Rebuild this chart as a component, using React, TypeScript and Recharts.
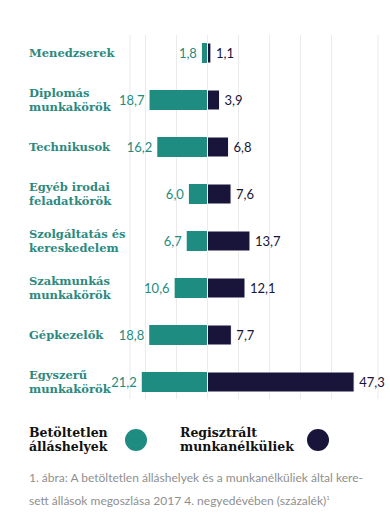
import React from "react";
import { Bar, BarChart, CartesianGrid, LabelList, XAxis, YAxis } from "recharts";

const categories = [
  "Menedzserek",
  "Diplomás\nmunkakörök",
  "Technikusok",
  "Egyéb irodai\nfeladatkörök",
  "Szolgáltatás és\nkereskedelem",
  "Szakmunkás\nmunkakörök",
  "Gépkezelők",
  "Egyszerű\nmunkakörök",
];
const vacancies = [1.8, 18.7, 16.2, 6.0, 6.7, 10.6, 18.8, 21.2];
const unemployed = [1.1, 3.9, 6.8, 7.6, 13.7, 12.1, 7.7, 47.3];
const gridTicks = [-20, -10, 0, 10, 20, 30, 40];

const TEAL = "#1f8c81";
const NAVY = "#18143a";
const LABEL_TEAL = "#2b8a7f";
const SERIF = "'DejaVu Serif', serif";
const SANS = "Lato, 'Noto Sans', sans-serif";

const data = categories.map((name, i) => ({
  name,
  vacant: -vacancies[i],
  unemployed: unemployed[i],
}));

const fmt = (v: any) => Math.abs(Number(v)).toFixed(1).replace(".", ",");

function CategoryTick(props: any) {
  const { y, payload } = props;
  const lines = String(payload.value).split("\n");
  const lh = 14;
  const start = y - ((lines.length - 1) * lh) / 2;
  return (
    <text
      x={29}
      y={start}
      fill={LABEL_TEAL}
      fontFamily={SERIF}
      fontWeight="bold"
      fontSize={11.5}
      dominantBaseline="central"
    >
      {lines.map((l, i) => (
        <tspan key={i} x={29} y={start + i * lh}>
          {l}
        </tspan>
      ))}
    </text>
  );
}

// shorter vertical grid lines, like the original
function GridLine(props: any) {
  const { x1, x2, y1, y2 } = props;
  return <line x1={x1} x2={x2} y1={y1 + 6} y2={y2 - 6} stroke="#ebebeb" strokeWidth={1} />;
}

function makeLabel(side: "left" | "right", color: string) {
  return (props: any) => {
    const { x, y, width, height, value } = props;
    const edge = side === "left" ? Math.min(x, x + width) - 5 : Math.max(x, x + width) + 5;
    return (
      <text
        x={edge}
        y={y + height / 2}
        textAnchor={side === "left" ? "end" : "start"}
        dominantBaseline="central"
        fill={color}
        fontFamily={SANS}
        fontSize={13}
      >
        {fmt(value)}
      </text>
    );
  };
}

function LegendText({ text }: { text: string[] }) {
  return (
    <div
      style={{
        fontFamily: SERIF,
        fontWeight: "bold",
        fontSize: 12.5,
        lineHeight: "13.5px",
        color: "#111",
      }}
    >
      {text.map((t, i) => (
        <div key={i}>{t}</div>
      ))}
    </div>
  );
}

export default function App() {
  return (
    <div style={{ position: "absolute", left: 0, top: 0, width: 390, height: 526, background: "#fff" }}>
      <BarChart
        width={390}
        height={406}
        data={data}
        layout="vertical"
        stackOffset="sign"
        barSize={20}
        margin={{ top: 29, right: 12, bottom: 0, left: 0 }}
      >
        <CartesianGrid horizontal={false} vertical={GridLine} />
        <XAxis
          type="number"
          domain={[-25, 55]}
          ticks={gridTicks}
          tick={() => <g />}
          axisLine={false}
          tickLine={false}
          height={1}
        />
        <YAxis
          type="category"
          dataKey="name"
          width={130}
          axisLine={false}
          tickLine={false}
          tick={<CategoryTick />}
          interval={0}
        />
        <Bar dataKey="vacant" stackId="a" fill={TEAL} isAnimationActive={false}>
          <LabelList dataKey="vacant" content={makeLabel("left", TEAL)} />
        </Bar>
        <Bar dataKey="unemployed" stackId="a" fill={NAVY} stroke="#fff" strokeWidth={1} isAnimationActive={false}>
          <LabelList dataKey="unemployed" content={makeLabel("right", NAVY)} />
        </Bar>
      </BarChart>

      <div style={{ position: "absolute", left: 29, top: 426 }}>
        <LegendText text={["Betöltetlen", "álláshelyek"]} />
      </div>
      <div style={{ position: "absolute", left: 125, top: 429, width: 22, height: 22, borderRadius: 11, background: TEAL }} />
      <div style={{ position: "absolute", left: 180, top: 426 }}>
        <LegendText text={["Regisztrált", "munkanélküliek"]} />
      </div>
      <div style={{ position: "absolute", left: 307, top: 429, width: 22, height: 22, borderRadius: 11, background: NAVY }} />

      <div
        style={{
          position: "absolute",
          left: 29,
          top: 468,
          fontFamily: SANS,
          fontSize: 12,
          lineHeight: "20px",
          color: "#8f8f8f",
          whiteSpace: "nowrap",
        }}
      >
        <div>1. ábra: A betöltetlen álláshelyek és a munkanélküliek által kere-</div>
        <div>
          sett állások megoszlása 2017 4. negyedévében (százalék)<sup style={{ fontSize: 6 }}>1</sup>
        </div>
      </div>
    </div>
  );
}
